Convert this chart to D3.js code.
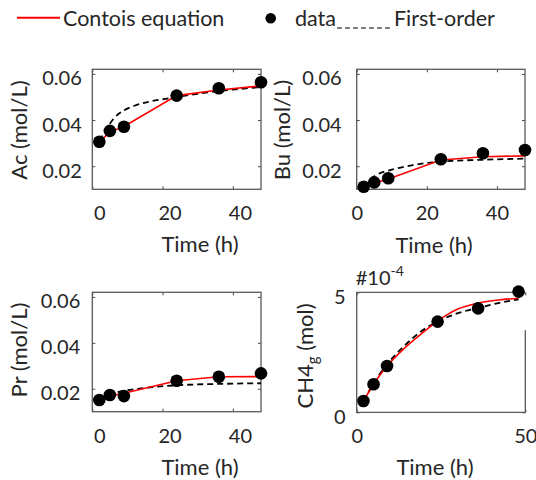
<!DOCTYPE html>
<html>
<head>
<meta charset="utf-8">
<script src="https://d3js.org/d3.v7.min.js"></script>
<style>
  body { margin: 0; background: #fff; }
  svg { font-family: Lato, "Open Sans", sans-serif; }
  .box { fill: none; stroke: #5a5a5a; stroke-width: 1.3; }
  .tick line { stroke: #404040; }
</style>
</head>
<body>
<svg width="536" height="480"></svg>
<script>

// sampling times (h)
var times = [2, 5, 9, 24, 36, 48];

// measured data
var acData  = [0.0306, 0.0353, 0.0371, 0.0506, 0.0538, 0.0564];
var buData  = [0.0111, 0.0130, 0.0148, 0.0230, 0.0256, 0.0270];
var prData  = [0.0151, 0.0173, 0.0168, 0.0235, 0.0252, 0.0267];
var ch4Data = [0.47e-4, 1.17e-4, 1.93e-4, 3.78e-4, 4.33e-4, 5.03e-4];

// Contois equation fit
var acContois  = [0.0306, 0.0348, 0.0372, 0.0506, 0.0530, 0.0548];
var buContois  = [0.0111, 0.0127, 0.0145, 0.0227, 0.0241, 0.0245];
var prContois  = [0.0151, 0.0168, 0.0180, 0.0235, 0.0252, 0.0253];
var ch4ContoisT = [2, 5, 9, 14, 19, 24, 27, 30, 36, 42, 48];
var ch4Contois  = [0.47e-4, 1.17e-4, 1.93e-4, 2.65e-4, 3.25e-4, 3.8e-4, 4.08e-4, 4.3e-4, 4.55e-4, 4.68e-4, 4.75e-4];

// first-order fit
var acFirstT  = [2, 4, 6, 9, 12, 16, 20, 24, 30, 36, 42, 48];
var acFirst   = [0.0310, 0.0360, 0.0405, 0.0442, 0.0462, 0.0479, 0.0490, 0.0500, 0.0514, 0.0526, 0.0535, 0.0543];
var buFirstT  = [2, 4, 6, 10, 16, 24, 36, 48];
var buFirst   = [0.0111, 0.0145, 0.0165, 0.0185, 0.0205, 0.0220, 0.0228, 0.0233];
var prFirstT  = [2, 5, 8, 14, 24, 36, 48];
var prFirst   = [0.0151, 0.0175, 0.0188, 0.0202, 0.0215, 0.0221, 0.0224];
var ch4FirstT = [2, 5, 9, 14, 19, 24, 30, 36, 42, 48];
var ch4First  = [0.47e-4, 1.2e-4, 2.0e-4, 2.75e-4, 3.36e-4, 3.78e-4, 4.13e-4, 4.35e-4, 4.55e-4, 4.71e-4];

// tick values
var concXTicks = [0, 20, 40];
var concYTicks = [0.02, 0.04, 0.06];
var ch4XTicks = [0, 50];
var ch4YTicks = [0, 5e-4];

var svg = d3.select("svg");
var textColor = "#262626";

var panels = [
  {x0: 92.3, x1: 261, y0: 69.3, y1: 189.3, xDom: [0, 48], yDom: [0.01, 0.062],
   xTicks: concXTicks, yTicks: concYTicks, fmt: d3.format(".2f"),
   data: acData, cT: times, c: acContois, fT: acFirstT, f: acFirst,
   ylabel: "Ac (mol/L)", xlx: 200, xly: 252, ylx: 27, yly: 130, tdx: 7, ygap: 10.5, curveC: d3.curveLinear},
  {x0: 356.7, x1: 525, y0: 69.3, y1: 189.3, xDom: [0, 48], yDom: [0.01, 0.062],
   xTicks: concXTicks, yTicks: concYTicks, fmt: d3.format(".2f"),
   data: buData, cT: times, c: buContois, fT: buFirstT, f: buFirst,
   ylabel: "Bu (mol/L)", xlx: 434, xly: 253, ylx: 290, yly: 130, tdx: 0, ygap: 15, curveC: d3.curveLinear},
  {x0: 92.3, x1: 261, y0: 292.3, y1: 411.7, xDom: [0, 48], yDom: [0.01, 0.062],
   xTicks: concXTicks, yTicks: concYTicks, fmt: d3.format(".2f"),
   data: prData, cT: times, c: prContois, fT: prFirstT, f: prFirst,
   ylabel: "Pr (mol/L)", xlx: 200, xly: 475, ylx: 27, yly: 350, tdx: 7, ygap: 12, curveC: d3.curveLinear},
  {x0: 356.7, x1: 525.3, y0: 292.3, y1: 412.3, xDom: [0, 50], yDom: [0, 5e-4],
   xTicks: ch4XTicks, yTicks: ch4YTicks, fmt: function(d) { return d3.format("d")(d * 1e4); },
   data: ch4Data, cT: ch4ContoisT, c: ch4Contois, fT: ch4FirstT, f: ch4First,
   ylabel: null, xlx: 435, xly: 475, ylx: 313, yly: 356, tdx: 0, ygap: 11, curveC: d3.curveMonotoneX}
];

panels.forEach(function(p, i) {
  var x = d3.scaleLinear().domain(p.xDom).range([p.x0, p.x1]);
  var y = d3.scaleLinear().domain(p.yDom).range([p.y1, p.y0]);
  var g = svg.append("g");

  // inner ticks on all four sides
  var bottom = g.append("g").attr("transform", "translate(0," + p.y1 + ")")
    .call(d3.axisBottom(x).tickValues(p.xTicks).tickSizeInner(-3).tickSizeOuter(0));
  bottom.select(".domain").remove();
  bottom.selectAll("text")
    .attr("y", 31).attr("dy", null).attr("dx", p.tdx)
    .attr("font-size", 20).attr("font-family", "Lato").attr("fill", textColor);

  var top = g.append("g").attr("transform", "translate(0," + p.y0 + ")")
    .call(d3.axisTop(x).tickValues(p.xTicks).tickSizeInner(-3).tickSizeOuter(0).tickFormat(""));
  top.select(".domain").remove();

  var left = g.append("g").attr("transform", "translate(" + p.x0 + ",0)")
    .call(d3.axisLeft(y).tickValues(p.yTicks).tickSizeInner(-3).tickSizeOuter(0).tickFormat(p.fmt));
  left.select(".domain").remove();
  left.selectAll("text")
    .attr("x", -p.ygap).attr("dy", "0.55em")
    .attr("font-size", 20).attr("font-family", "Lato").attr("fill", textColor);

  var right = g.append("g").attr("transform", "translate(" + p.x1 + ",0)")
    .call(d3.axisRight(y).tickValues(p.yTicks).tickSizeInner(-3).tickSizeOuter(0).tickFormat(""));
  right.select(".domain").remove();

  // box
  if (i < 3) {
    g.append("rect").attr("class", "box")
      .attr("x", p.x0).attr("y", p.y0)
      .attr("width", p.x1 - p.x0).attr("height", p.y1 - p.y0);
  } else {
    g.append("path").attr("class", "box")
      .attr("d", "M" + p.x1 + "," + (p.y0 + 38) + "V" + p.y1 + "H" + p.x0 + "V" + p.y0 + "H" + (p.x1 - 4));
  }

  // first-order (dashed)
  g.append("path")
    .datum(p.fT.map(function(t, k) { return [t, p.f[k]]; }))
    .attr("fill", "none").attr("stroke", "#000").attr("stroke-width", 1.8)
    .attr("stroke-dasharray", "6,4")
    .attr("d", d3.line().curve(d3.curveMonotoneX)
      .x(function(d) { return x(d[0]); }).y(function(d) { return y(d[1]); }));

  // Contois (red)
  g.append("path")
    .datum(p.cT.map(function(t, k) { return [t, p.c[k]]; }))
    .attr("fill", "none").attr("stroke", "#ff0000").attr("stroke-width", 1.6)
    .attr("d", d3.line().curve(p.curveC)
      .x(function(d) { return x(d[0]); }).y(function(d) { return y(d[1]); }));

  // data points
  g.selectAll("circle.pt")
    .data(times.map(function(t, k) { return [t, p.data[k]]; }))
    .enter().append("circle").attr("class", "pt")
    .attr("cx", function(d) { return x(d[0]); })
    .attr("cy", function(d) { return y(d[1]); })
    .attr("r", 6.3).attr("fill", "#000");

  // axis labels
  g.append("text").attr("x", p.xlx).attr("y", p.xly)
    .attr("text-anchor", "middle").attr("font-size", 22).attr("fill", textColor)
    .text("Time (h)");

  var yl = g.append("text")
    .attr("transform", "translate(" + p.ylx + "," + p.yly + ") rotate(-90)")
    .attr("text-anchor", "middle").attr("font-size", 22).attr("fill", textColor);
  if (p.ylabel) {
    yl.text(p.ylabel);
  } else {
    yl.append("tspan").text("CH4");
    yl.append("tspan").attr("font-size", 15).attr("dy", 5).text("g");
    yl.append("tspan").attr("dy", -5).text(" (mol)");
    // exponent label
    var ex = g.append("text").attr("x", p.x0 - 1).attr("y", p.y0 - 7)
      .attr("font-size", 20).attr("fill", textColor);
    ex.append("tspan").text("#10");
    ex.append("tspan").attr("font-size", 14).attr("dy", -9).text("-4");
  }
});

// legend
var leg = svg.append("g").attr("font-size", 21.5).attr("fill", textColor);
leg.append("line").attr("x1", 17).attr("x2", 60).attr("y1", 17.7).attr("y2", 17.7)
  .attr("stroke", "#ff0000").attr("stroke-width", 2);
leg.append("text").attr("x", 63).attr("y", 26).text("Contois equation");
leg.append("circle").attr("cx", 270.7).attr("cy", 18.3).attr("r", 5.3).attr("fill", "#000");
leg.append("text").attr("x", 295).attr("y", 26).text("data");
leg.append("line").attr("x1", 337).attr("x2", 393).attr("y1", 28).attr("y2", 28)
  .attr("stroke", "#000").attr("stroke-width", 1).attr("stroke-dasharray", "5,3");
leg.append("text").attr("x", 394).attr("y", 26).text("First-order");

</script>
</body>
</html>
